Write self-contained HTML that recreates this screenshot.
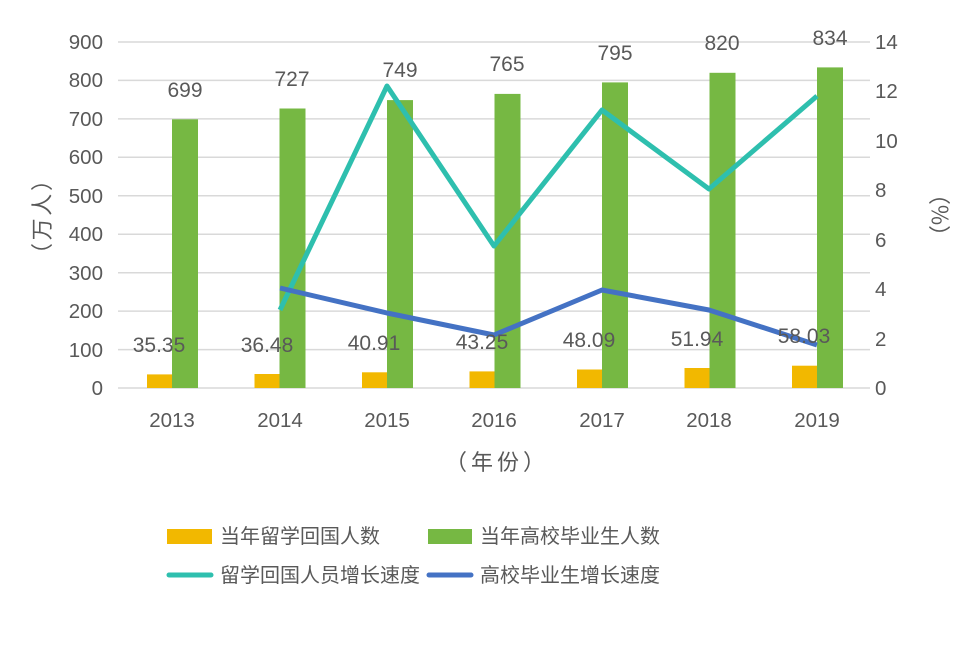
<!DOCTYPE html>
<html><head><meta charset="utf-8"><style>
body{margin:0;background:#fff;}
svg text{font-family:"Liberation Sans","Noto Sans CJK SC",sans-serif;fill:#595959;}
svg text.cjk{font-family:"Noto Sans CJK SC",sans-serif;}
</style></head><body>
<svg width="969" height="660" viewBox="0 0 969 660" xmlns="http://www.w3.org/2000/svg">
<g stroke="#d9d9d9" stroke-width="1.5">
<line x1="118" x2="870" y1="42" y2="42"/><line x1="118" x2="870" y1="80.4" y2="80.4"/>
<line x1="118" x2="870" y1="118.9" y2="118.9"/><line x1="118" x2="870" y1="157.3" y2="157.3"/>
<line x1="118" x2="870" y1="195.8" y2="195.8"/><line x1="118" x2="870" y1="234.2" y2="234.2"/>
<line x1="118" x2="870" y1="272.7" y2="272.7"/><line x1="118" x2="870" y1="311.1" y2="311.1"/>
<line x1="118" x2="870" y1="349.6" y2="349.6"/><line x1="118" x2="870" y1="388" y2="388"/>
</g>
<g font-size="20.5" text-anchor="end">
<text x="103" y="49">900</text><text x="103" y="87">800</text><text x="103" y="126">700</text>
<text x="103" y="164">600</text><text x="103" y="203">500</text><text x="103" y="241">400</text>
<text x="103" y="280">300</text><text x="103" y="318">200</text><text x="103" y="357">100</text>
<text x="103" y="395">0</text>
</g>
<g font-size="20.5" text-anchor="start">
<text x="875" y="49">14</text><text x="875" y="98">12</text><text x="875" y="148">10</text>
<text x="875" y="197">8</text><text x="875" y="247">6</text><text x="875" y="296">4</text>
<text x="875" y="346">2</text><text x="875" y="395">0</text>
</g>
<g fill="#f2b800">
<rect x="147" y="374.4" width="25" height="13.6"/>
<rect x="254.5" y="374" width="25" height="14"/>
<rect x="362" y="372.3" width="25" height="15.7"/>
<rect x="469.5" y="371.4" width="25" height="16.6"/>
<rect x="577" y="369.5" width="25" height="18.5"/>
<rect x="684.5" y="368" width="25" height="20"/>
<rect x="792" y="365.7" width="25" height="22.3"/>
</g>
<g fill="#76b843">
<rect x="172" y="119.3" width="26" height="268.7"/>
<rect x="279.5" y="108.5" width="26" height="279.5"/>
<rect x="387" y="100.1" width="26" height="287.9"/>
<rect x="494.5" y="93.9" width="26" height="294.1"/>
<rect x="602" y="82.4" width="26" height="305.6"/>
<rect x="709.5" y="72.8" width="26" height="315.2"/>
<rect x="817" y="67.4" width="26" height="320.6"/>
</g>
<polyline fill="none" stroke="#2ebfae" stroke-width="5" stroke-linejoin="round" points="280,310 387,86 494,246 602,110 709,189 817,96"/>
<polyline fill="none" stroke="#4472c4" stroke-width="5" stroke-linejoin="round" points="280,288 387,313 494,335 602,290 709,310 817,345"/>
<g font-size="21" text-anchor="middle" style="fill:#404040">
<text x="185" y="97">699</text><text x="292" y="86">727</text><text x="400" y="77">749</text>
<text x="507" y="71">765</text><text x="615" y="60">795</text><text x="722" y="50">820</text><text x="830" y="45">834</text>
<text x="159" y="352">35.35</text><text x="267" y="352">36.48</text><text x="374" y="350">40.91</text>
<text x="482" y="349">43.25</text><text x="589" y="347">48.09</text><text x="697" y="346">51.94</text><text x="804" y="343">58.03</text>
</g>
<g font-size="20.5" text-anchor="middle">
<text x="172" y="427">2013</text><text x="280" y="427">2014</text><text x="387" y="427">2015</text>
<text x="494" y="427">2016</text><text x="602" y="427">2017</text><text x="709" y="427">2018</text><text x="817" y="427">2019</text>
</g>
<g font-size="22">
<text class="cjk" x="445" y="470" textLength="100" lengthAdjust="spacing">（年份）</text>
<text class="cjk" transform="translate(42,265) rotate(-90)" dy="8" textLength="96" lengthAdjust="spacing">（万人）</text>
<text class="cjk" transform="translate(940,215) rotate(-90)" dy="8" text-anchor="middle">（%）</text>
</g>
<rect x="167" y="529" width="45" height="15" fill="#f2b800"/>
<rect x="428" y="529" width="44" height="15" fill="#76b843"/>
<line x1="169" x2="211" y1="575" y2="575" stroke="#2ebfae" stroke-width="5" stroke-linecap="round"/>
<line x1="429" x2="471" y1="575" y2="575" stroke="#4472c4" stroke-width="5" stroke-linecap="round"/>
<g font-size="20">
<text x="220" y="543">当年留学回国人数</text>
<text x="480" y="543">当年高校毕业生人数</text>
<text x="220" y="582">留学回国人员增长速度</text>
<text x="480" y="582">高校毕业生增长速度</text>
</g>
</svg>
</body></html>
